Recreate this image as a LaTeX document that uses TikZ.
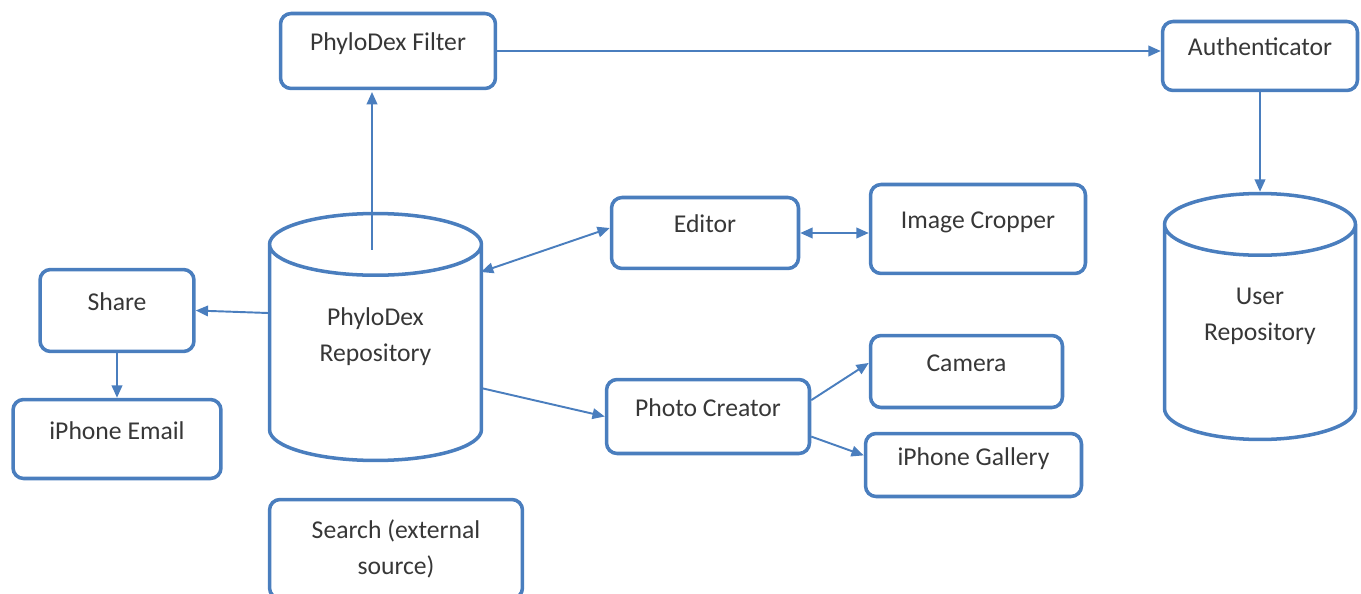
\documentclass[tikz,border=0pt]{standalone}
\usepackage{fontspec}
\setmainfont{Carlito}
\usetikzlibrary{arrows.meta,shapes.geometric,positioning}
\definecolor{boxblue}{RGB}{74,126,190}
\definecolor{txtgray}{RGB}{55,55,55}

\begin{document}
\begin{tikzpicture}[x=0.02cm,y=-0.02cm,
    block/.style={rectangle, rounded corners=6pt, draw=boxblue, line width=2pt, text=txtgray, font=\fontsize{14.6}{20.5}\selectfont},
    oneline/.style={block, text height=1.6ex, text depth=1.6ex},
    store/.style={cylinder, shape border rotate=90, aspect=0.5, anchor=shape center, draw=boxblue, line width=2pt, align=center, font=\fontsize{14.6}{20.5}\selectfont},
    storetext/.style={text=txtgray, align=center, font=\fontsize{14.6}{20.5}\selectfont},
    link/.style={draw=boxblue, line width=1.1pt, -{Triangle[length=7pt,width=6pt]}},
    twoway/.style={link, {Triangle[length=7pt,width=6pt]}-{Triangle[length=7pt,width=6pt]}}]
        \useasboundingbox (0,0) rectangle (1361,594);
        \clip (0,0) rectangle (1361,594);
        % boxes
        \node[oneline, minimum width=4.30cm, minimum height=1.50cm] at (388,51) (filter) {PhyloDex Filter};
        \node[oneline, minimum width=3.90cm, minimum height=1.38cm] at (1260,56) (auth) {Authenticator};
        \node[oneline, minimum width=3.74cm, minimum height=1.42cm] at (705,233) (editor) {Editor};
        \node[oneline, minimum width=4.30cm, minimum height=1.78cm] at (978,229) (cropper) {Image Cropper};
        \node[oneline, minimum width=3.08cm, minimum height=1.64cm] at (117,310.5) (share) {Share};
        \node[oneline, minimum width=4.16cm, minimum height=1.58cm] at (117,439) (email) {iPhone Email};
        \node[oneline, minimum width=3.84cm, minimum height=1.44cm] at (966.5,371.5) (camera) {Camera};
        \node[oneline, minimum width=4.06cm, minimum height=1.48cm] at (708,416.5) (photo) {Photo Creator};
        \node[oneline, minimum width=4.32cm, minimum height=1.26cm] at (973.5,465) (gallery) {iPhone Gallery};
        \node[block, align=center, minimum width=5.06cm, minimum height=1.98cm] at (396,549) (search) {Search (external\\source)};
        % stores (phantom text keeps the end caps round, the label sits at the middle)
        \node[store, minimum width=4.24cm, minimum height=4.94cm] at (375.5,337) (repo) {\phantom{PhyloDex}\\\phantom{Repository}};
        \node[storetext] at (repo.shape center) (repotext) {PhyloDex\\Repository};
        \node[store, minimum width=3.82cm, minimum height=4.92cm] at (1260,316.5) (userrepo) {\phantom{User}\\\phantom{Repository}};
        \node[storetext] at (userrepo.shape center) (userrepotext) {User\\Repository};
        % connectors
        \draw[link] ([shift={(-3.5,-87)}]repo.shape center) -- ++(0,-158);
        \draw[link] (filter.east) -- (filter.east -| auth.west);
        \draw[link] (auth.south) -- (userrepo.top);
        \draw[twoway] ([shift={(105.5,-65)}]repo.shape center) -- (editor.177);
        \draw[twoway] (editor.east) -- (editor.east -| cropper.west);
        \draw[link] ([shift={(-107.5,-24)}]repo.shape center) -- (share.east);
        \draw[link] (share.south) -- (email.north);
        \draw[link] ([shift={(105.5,51)}]repo.shape center) -- (photo.west);
        \draw[link] (photo.9) -- (camera.175);
        \draw[link] (photo.-11) -- (gallery.175);
      \end{tikzpicture}
\end{document}
